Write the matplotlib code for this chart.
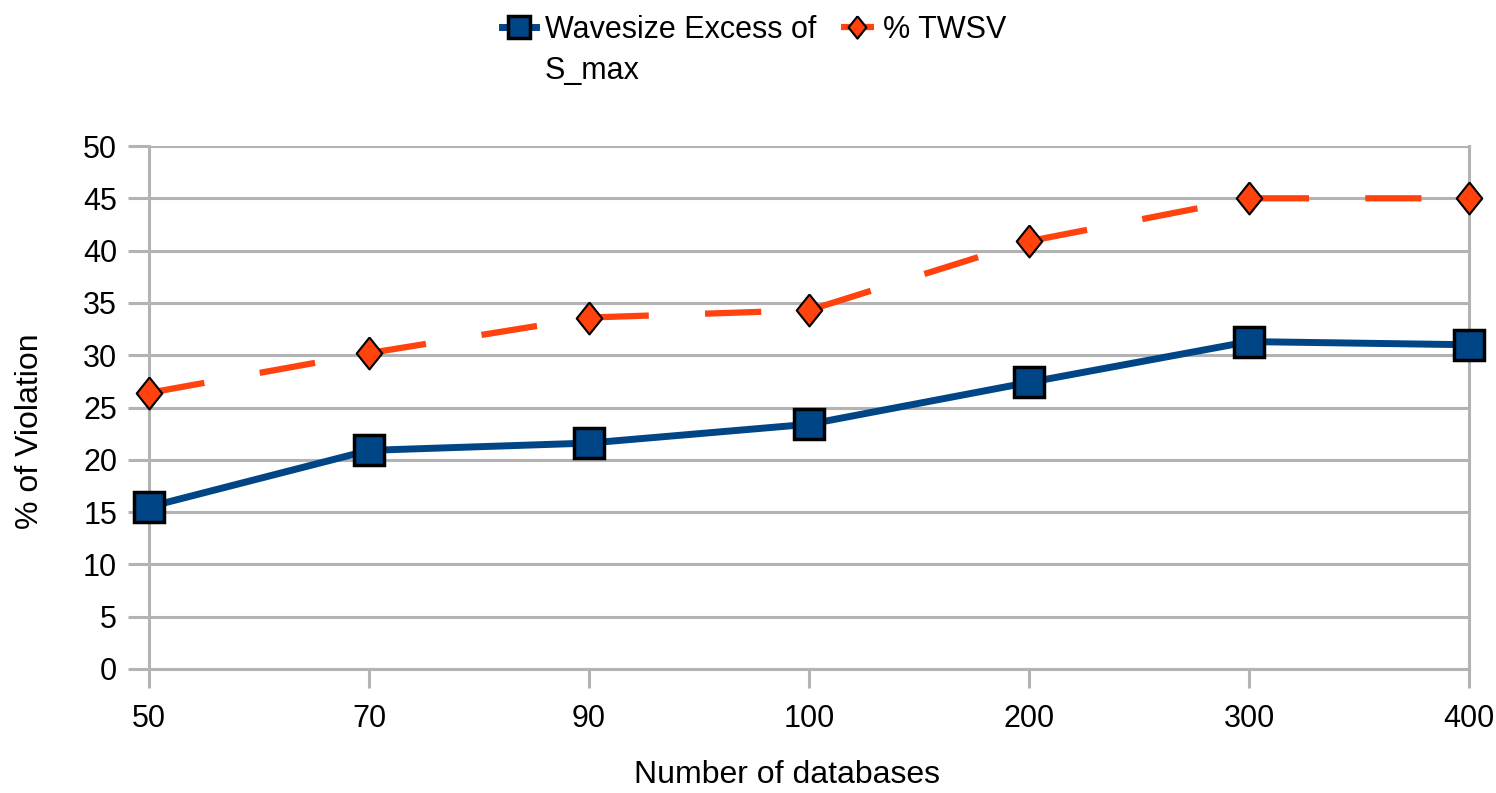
import matplotlib
matplotlib.use("Agg")
import matplotlib.pyplot as plt

# chart data
categories = ["50", "70", "90", "100", "200", "300", "400"]
wavesize_excess = [15.5, 20.9, 21.6, 23.4, 27.4, 31.3, 31.0]
twsv_pct = [26.4, 30.2, 33.6, 34.3, 40.9, 45.0, 45.0]
series_labels = ["Wavesize Excess of", "% TWSV"]
label_second_line = "S_max"
yticks = list(range(0, 51, 5))

BLUE = "#004586"
ORANGE = "#ff420e"
GRID = "#b3b3b3"
FS = 22

plt.rcParams["font.family"] = ["Liberation Sans", "DejaVu Sans"]

fig = plt.figure(figsize=(14.96, 7.93), dpi=100)
ax = fig.add_axes([149 / 1496, 1 - 669 / 793, (1469 - 149) / 1496, (669 - 146) / 793])

# taller than wide diamond, like the office chart marker
tall_diamond = [(0, 1), (0.8, 0), (0, -1), (-0.8, 0), (0, 1)]

x = list(range(len(categories)))
ax.plot(x, wavesize_excess, color=BLUE, lw=5, marker="s", ms=22,
        mfc=BLUE, mec="black", mew=2.5, label=series_labels[0], zorder=4, clip_on=False)
ax.plot(x, twsv_pct, color=ORANGE, lw=4.5, dashes=(9, 9), marker=tall_diamond, ms=23,
        mfc=ORANGE, mec="black", mew=1.5, label=series_labels[1], zorder=4, clip_on=False)

ax.set_xlim(0, len(categories) - 1)
ax.set_ylim(0, 50)
ax.set_xticks(x)
ax.set_xticklabels(categories)
ax.set_yticks(yticks)

ax.grid(axis="y", color=GRID, lw=2.2)
ax.set_axisbelow(True)
ax.spines["top"].set_visible(False)
for s in ["left", "right", "bottom"]:
    ax.spines[s].set_color(GRID)
    ax.spines[s].set_linewidth(2.2)
ax.tick_params(axis="x", length=14, width=2.2, color=GRID, labelsize=FS, pad=11)
ax.tick_params(axis="y", length=15, width=2.2, color=GRID, labelsize=FS, pad=8)

ax.set_xlabel("Number of databases", fontsize=FS + 1)
ax.set_ylabel("% of Violation", fontsize=FS + 1)
ax.xaxis.set_label_coords(0.483, -0.203)
ax.xaxis.label.set_va("center")
ax.yaxis.set_label_coords(-0.09, 0.455)
ax.yaxis.label.set_va("center")

leg = fig.legend(loc="upper left", bbox_to_anchor=(502 / 1496, 1 - 15 / 793), ncol=2,
                 frameon=False, fontsize=FS, handlelength=1.1, handletextpad=0.3,
                 columnspacing=0.8, markerscale=0.7, borderaxespad=0, borderpad=0)

# second line of the first legend label goes under its first line
fig.canvas.draw()
bb = leg.get_texts()[0].get_window_extent()
fig.text(bb.x0 / 1496, (bb.y0 - 26) / 793, label_second_line, fontsize=FS, va="center", ha="left")

fig.savefig("out.png", dpi=100)
